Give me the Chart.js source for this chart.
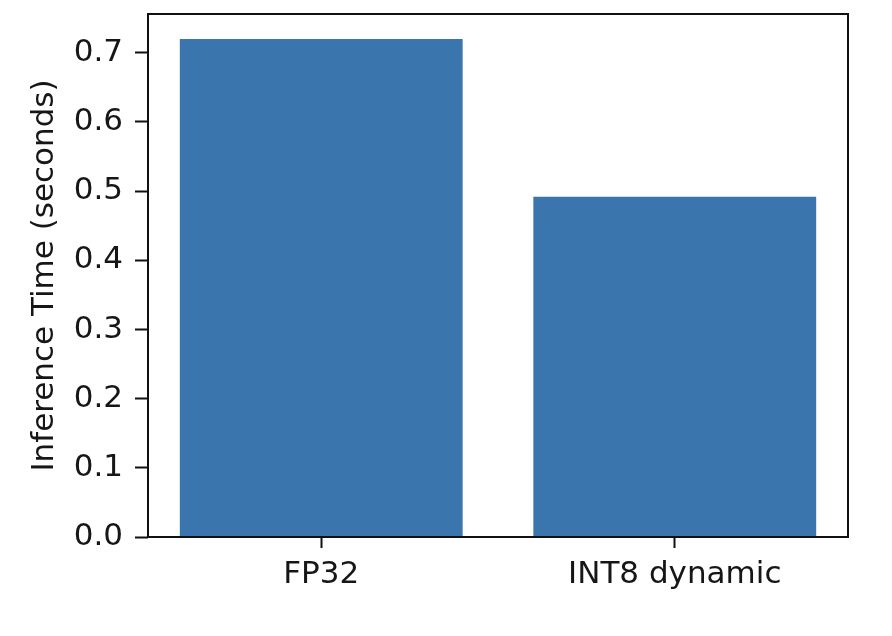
<!DOCTYPE html>
<html>
<head>
<meta charset="utf-8">
<script src="https://cdn.jsdelivr.net/npm/chart.js@4"></script>
<style>
  html, body { margin: 0; padding: 0; background: #ffffff; }
  #wrap { width: 892px; height: 636px; position: relative; }
</style>
</head>
<body>
<div id="wrap"><canvas id="c" width="892" height="636"></canvas></div>
<script>
const categories = ['FP32', 'INT8 dynamic'];
const inferenceSeconds = [0.72, 0.492];
const yTicks = [0.0, 0.1, 0.2, 0.3, 0.4, 0.5, 0.6, 0.7];
const yAxisTitle = 'Inference Time (seconds)';

const FONT = 'DejaVu Sans';
const TEXT = '#161616';
const FS = 31;

const framePlugin = {
  id: 'frame',
  afterDatasetsDraw(chart) {
    const { ctx, chartArea: a } = chart;
    ctx.save();
    ctx.strokeStyle = '#111111';
    ctx.lineWidth = 2;
    ctx.strokeRect(a.left, a.top, a.right - a.left, a.bottom - a.top);
    ctx.restore();
  }
};

new Chart(document.getElementById('c'), {
  type: 'bar',
  data: {
    datasets: [{
      data: inferenceSeconds.map((v, i) => ({ x: i, y: v })),
      backgroundColor: '#3a75ae',
      borderWidth: 0,
      barPercentage: 0.8,
      categoryPercentage: 1.0
    }]
  },
  options: {
    responsive: false,
    animation: false,
    devicePixelRatio: 1,
    layout: { padding: { top: 14, right: 44, left: 0, bottom: 0 } },
    plugins: { legend: { display: false }, tooltip: { enabled: false } },
    scales: {
      x: {
        type: 'linear',
        offset: false,
        min: -0.49,
        max: 1.49,
        afterBuildTicks(s) { s.ticks = categories.map((_, i) => ({ value: i })); },
        afterFit(s) { s.height = 99; s.paddingLeft = 0; s.paddingRight = 0; },
        ticks: {
          callback: (v) => categories[v],
          font: { family: FONT, size: FS },
          color: TEXT,
          padding: 8,
          maxRotation: 0,
          autoSkip: false
        },
        grid: { drawOnChartArea: false, drawTicks: true, tickLength: 11, tickWidth: 2, tickColor: '#111111', offset: false },
        border: { display: false }
      },
      y: {
        type: 'linear',
        min: 0,
        max: 0.756,
        afterBuildTicks(s) { s.ticks = yTicks.map(v => ({ value: v })); },
        afterFit(s) { s.width = 148; s.paddingTop = 0; s.paddingBottom = 0; },
        ticks: {
          callback: (v) => v.toFixed(1),
          font: { family: FONT, size: FS },
          color: TEXT,
          padding: 12
        },
        grid: { drawOnChartArea: false, drawTicks: true, tickLength: 13, tickWidth: 2, tickColor: '#111111' },
        border: { display: false },
        title: {
          display: true,
          text: yAxisTitle,
          font: { family: FONT, size: FS },
          color: TEXT,
          padding: { top: 26, bottom: 0 }
        }
      }
    }
  },
  plugins: [framePlugin]
});
</script>
</body>
</html>
